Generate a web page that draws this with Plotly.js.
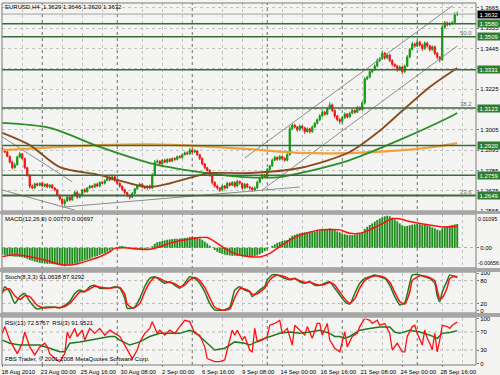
<!DOCTYPE html>
<html><head><meta charset="utf-8">
<script src="https://cdn.plot.ly/plotly-3.0.1.min.js"></script>
<style>html,body{margin:0;padding:0;background:#f4f4f2;}#chart{width:500px;height:375px;}</style>
</head><body><div id="chart"></div>
<script>
// ---------- time axis ----------
const timeLabels = ["18 Aug 2010","23 Aug 00:00","25 Aug 16:00","30 Aug 08:00","2 Sep 00:00","6 Sep 16:00","9 Sep 08:00","14 Sep 00:00","16 Sep 16:00","21 Sep 08:00","24 Sep 00:00","28 Sep 16:00"];
const labelBars = [0,16,32,48,64,80,96,112,128,144,160,176];
const gridBars = [8,24,32,40,56,64,72,88,96,104,112,120,128,144,152,160,176,184];
const weekBars = [16,46,76,106,136,166];

// ---------- EURUSD H4 candles ----------
const firstOpen = 1.2905;
const closes = [
1.2898,1.2885,1.2862,1.2830,1.2800,1.2815,1.2858,1.2875,1.2850,1.2800,
1.2760,1.2700,1.2690,1.2712,1.2705,1.2715,1.2700,1.2710,1.2695,1.2705,
1.2690,1.2680,1.2650,1.2630,1.2605,1.2620,1.2640,1.2625,1.2650,1.2665,
1.2640,1.2655,1.2680,1.2670,1.2690,1.2700,1.2695,1.2710,1.2700,1.2720,
1.2715,1.2730,1.2745,1.2735,1.2750,1.2730,1.2715,1.2700,1.2680,1.2665,
1.2650,1.2640,1.2660,1.2685,1.2700,1.2710,1.2695,1.2690,1.2700,1.2690,
1.2760,1.2830,1.2835,1.2820,1.2840,1.2830,1.2845,1.2835,1.2850,1.2845,
1.2860,1.2855,1.2870,1.2880,1.2875,1.2895,1.2885,1.2890,1.2870,1.2850,
1.2820,1.2800,1.2785,1.2760,1.2720,1.2700,1.2690,1.2680,1.2700,1.2690,
1.2715,1.2705,1.2720,1.2700,1.2725,1.2715,1.2690,1.2710,1.2695,1.2690,
1.2680,1.2690,1.2720,1.2745,1.2760,1.2750,1.2790,1.2810,1.2840,1.2855,
1.2845,1.2860,1.2850,1.2840,1.2870,1.3010,1.3030,1.3020,1.3005,1.3025,
1.3015,1.2995,1.3010,1.2995,1.3020,1.3040,1.3060,1.3080,1.3100,1.3090,
1.3120,1.3140,1.3110,1.3080,1.3060,1.3050,1.3070,1.3090,1.3075,1.3095,
1.3110,1.3100,1.3125,1.3115,1.3150,1.3280,1.3290,1.3320,1.3330,1.3350,
1.3380,1.3390,1.3420,1.3395,1.3410,1.3380,1.3360,1.3350,1.3330,1.3345,
1.3320,1.3350,1.3400,1.3440,1.3470,1.3460,1.3480,1.3465,1.3445,1.3475,
1.3460,1.3440,1.3455,1.3420,1.3400,1.3385,1.3560,1.3585,1.3575,1.3580,
1.3585,1.3629,1.3632];
const upWickPips = [
6,4,5,3,8,10,6,9,4,3, 5,4,8,6,7,5,9,4,6,5, 7,4,5,6,4,12,8,6,5,9, 10,6,5,8,4,7,5,6,9,5,
8,6,7,9,12,6,4,5,3,6, 4,5,8,6,7,9,5,6,4,8, 10,12,9,5,6,8,4,7,5,6, 5,8,6,7,9,12,8,10,5,4,
6,5,4,7,5,6,8,4,9,6, 8,5,7,6,9,5,4,7,6,5, 6,8,9,5,7,6,8,5,9,10, 6,8,5,7,9,14,10,8,6,9,
5,7,8,6,9,8,6,10,12,8, 9,14,7,5,6,8,7,9,6,8, 7,6,9,7,12,10,8,9,6,10, 12,9,15,7,10,6,8,5,7,9,
6,8,10,9,12,8,10,7,6,9, 8,6,7,5,6,4,14,10,6,8, 9,12,14];
const lowWickPips = [
4,6,5,8,10,5,4,6,7,8, 9,12,6,5,7,6,4,8,5,6, 5,8,6,9,12,15,6,8,5,7, 9,6,5,7,6,4,8,5,6,7,
5,6,4,8,5,7,6,9,6,8, 10,12,6,5,7,6,8,5,9,7, 6,5,8,7,6,5,7,6,5,8, 6,5,7,4,6,5,8,6,7,9,
7,10,6,9,12,8,10,12,6,8, 5,7,6,9,5,8,10,6,7,9, 12,8,6,5,7,6,5,8,6,5, 8,6,9,7,6,5,8,7,10,6,
8,12,6,10,7,5,6,8,5,9, 6,5,10,12,9,14,7,6,8,5, 6,8,5,7,6,8,6,5,9,6, 7,8,6,10,7,9,12,8,10,7,
14,8,6,7,5,9,7,10,12,6, 9,11,7,10,12,14,6,8,10,7, 6,5,9];

// ---------- moving averages (read at sample bars) ----------
const maOrangeBars = [0,20,39,59,79,99,119,139,159,175,182];
const maOrange = [1.2895,1.2910,1.2922,1.2926,1.2917,1.2900,1.2880,1.2879,1.2893,1.2917,1.2933];
const maGreenBars = [0,19,39,59,79,97,111,119,139,159,179,182];
const maGreen = [1.3042,1.3015,1.2912,1.2825,1.2776,1.2749,1.2749,1.2770,1.2841,1.2950,1.3074,1.3096];
const maBrownBars = [0,11,23,39,59,79,83,99,119,139,151,159,171,182];
const maBrown = [1.2988,1.2922,1.2803,1.2760,1.2695,1.2760,1.2771,1.2771,1.2798,1.2885,1.3000,1.3096,1.3237,1.3340];

// ---------- drawn trend lines [bar0, price0, bar1, price1] ----------
const trendLines = [
  [0,1.2967,28,1.2723],
  [0,1.2679,29,1.2570],
  [24,1.2586,119,1.2695],
  [97,1.2852,180,1.3676],
  [104,1.2679,182,1.3459]
];
const levels = [1.3580,1.3509,1.3331,1.3123,1.2920,1.2759,1.2649];
const fibTexts = ["50.0","38.2","23.6"];
const fibLevels = [1.3509,1.3123,1.2649];
const bidPrice = 1.3632;
const priceTicks = [1.2565,1.2675,1.2785,1.2895,1.3005,1.3115,1.3225,1.3335,1.3445,1.3555,1.3665];

// ---------- MACD(12,26,9), units of 0.001 ----------
const macdHist = [
-2.2,-2.3,-2.4,-2.6,-2.8,-2.9,-2.9,-3.0,-3.1,-3.3,-3.6,-4.0,
-4.2,-4.5,-4.7,-4.9,-5.0,-5.1,-5.2,-5.2,-5.3,-5.4,-5.5,-5.6,-5.8,
-6.0,-5.8,-5.6,-5.4,-5.1,-5.0,
-4.7,-4.4,-4.1,-3.9,-3.6,-3.2,-2.9,-2.7,-2.3,-2.0,-1.7,-1.3,-0.9,
-0.5,-0.2,0.2,0.5,0.6,
0.4,0.1,-0.3,-0.5,-0.6,-0.5,-0.4,-0.5,-0.4,-0.3,
-0.2,0.5,1.3,1.8,2.0,2.2,
2.4,2.6,2.7,2.8,2.9,2.9,3.0,3.1,3.2,3.3,3.5,3.6,3.5,3.3,3.0,
2.6,2.0,1.4,0.7,0.0,-0.7,-1.3,
-1.7,-2.0,-2.2,-2.4,-2.5,-2.6,-2.6,-2.7,-2.7,-2.8,-2.8,-2.9,-2.8,
-2.8,-2.7,-2.5,-2.1,-1.7,-1.1,-0.6,
0.0,0.6,1.1,1.6,1.9,2.2,2.4,2.5,
3.2,3.9,4.2,4.5,4.7,4.9,5.0,5.1,5.2,5.2,5.3,5.5,5.7,5.9,6.0,6.1,6.3,
6.1,5.7,5.3,5.0,4.6,4.4,4.2,4.1,4.1,4.2,4.4,4.6,
5.0,6.1,6.8,7.4,7.9,8.5,9.0,9.5,9.9,10.2,10.4,10.2,
9.8,9.2,8.6,7.9,7.3,7.0,7.1,7.3,7.5,7.6,7.7,
7.6,7.5,7.4,7.3,7.0,6.6,6.3,5.9,5.6,
6.3,6.7,7.0,7.2,7.4,7.6,7.7];
const macdSigBars = [0,5,11,17,23,27,31,35,39,43,45,49,55,59,63,67,71,75,79,82,85,89,93,97,99,103,107,111,115,119,127,135,139,143,147,151,156,159,163,167,171,175,179,182];
const macdSig = [-2.9,-2.3,-2.9,-4.0,-5.4,-5.6,-5.0,-4.0,-2.9,-1.3,-0.2,0.0,-0.5,-0.5,0.3,1.5,2.3,2.8,3.3,3.3,2.0,-0.2,-1.9,-2.7,-2.9,-3.0,-1.8,0.4,2.5,4.1,5.8,5.8,4.7,4.7,5.8,7.4,9.4,9.4,8.5,7.9,7.4,6.8,6.8,7.0];

// ---------- Stochastic(8,3,3) ----------
const stochBars = [0,1,3,5,7,9,11,14,17,21,23,25,27,29,31,33,35,37,39,43,45,47,49,50,52,53,55,57,59,61,63,65,67,69,71,73,75,77,79,81,83,85,88,91,93,95,97,99,100,102,104,105,106,108,110,113,115,117,119,121,123,125,127,129,131,133,135,137,139,141,143,145,147,149,151,153,155,157,159,161,163,164,167,169,171,173,174,175,176,178,179,181,182];
const stochMain = [46,64,50,20,38,46,25,5,10,10,8,15,25,46,55,50,64,68,60,60,64,60,33,7,8,10,33,64,86,90,82,73,77,68,60,73,90,86,73,50,20,3,1,10,55,64,55,50,38,50,60,64,82,95,95,86,82,86,77,73,77,68,68,73,77,60,42,25,18,46,73,86,90,95,90,86,68,38,16,22,73,95,95,90,86,73,40,24,50,80,95,90,91];
const stochSignal = [50,55,58,40,30,40,38,15,8,10,9,12,20,35,50,52,58,65,63,60,62,62,45,18,8,9,20,50,75,88,86,78,75,72,64,68,82,88,80,62,35,10,2,5,35,58,58,52,44,45,55,60,72,88,95,90,84,85,80,75,76,71,68,70,75,68,50,32,20,32,60,80,88,92,92,88,76,50,25,18,50,80,93,92,88,80,55,32,35,62,85,92,88];

// ---------- RSI(13) and RSI(3) ----------
const rsi13Bars = [0,3,7,11,15,19,23,25,27,31,35,39,43,45,47,51,55,59,63,67,71,75,77,79,83,85,89,93,97,99,103,107,111,115,119,123,127,131,133,135,137,139,143,147,151,155,157,159,163,167,171,174,176,179,182];
const rsi13 = [52,45,41,41,41,34,26,26,45,48,52,56,60,60,52,41,48,60,67,67,67,74,70,60,41,30,34,48,45,41,52,60,67,70,67,70,74,67,60,60,56,60,74,78,81,81,70,67,74,70,63,56,67,69,73];
const rsi3Bars = [0,1,3,5,6,8,9,11,13,15,17,18,19,21,23,25,26,27,29,30,32,33,35,37,39,41,43,45,47,49,51,52,54,55,57,59,60,62,63,65,67,69,71,73,75,77,79,81,82,85,87,89,90,92,93,94,96,97,99,100,101,102,104,106,107,109,111,112,114,116,117,119,121,122,124,126,127,128,130,131,133,135,137,138,140,142,143,145,147,148,150,151,153,155,156,158,160,161,162,164,165,166,168,169,170,171,172,173,174,175,176,178,179,180,182];
const rsi3 = [67,82,52,30,22,45,70,37,19,37,45,37,22,11,4,22,70,56,78,60,74,52,78,67,78,63,74,67,60,41,19,11,30,48,67,78,93,67,74,63,74,67,82,96,93,67,63,37,11,4,4,8,30,74,63,74,52,60,30,26,78,48,52,60,85,89,96,67,78,41,85,74,63,82,56,89,89,63,89,52,34,26,70,37,60,67,82,100,96,89,96,85,89,67,30,45,26,26,60,82,85,67,41,74,56,45,30,67,26,52,85,82,78,85,92];

// ---------- build ----------
const bars = closes.map((c, i) => i);
const opens = closes.map((c, i) => i === 0 ? firstOpen : closes[i - 1]);
const highs = closes.map((c, i) => Math.max(opens[i], c) + upWickPips[i] * 0.0001);
const lows = closes.map((c, i) => Math.min(opens[i], c) - lowWickPips[i] * 0.0001);

const UP = '#139a13', DOWN = '#f01414', GREENLINE = '#1e7a1e', RED = '#ff1010';
const traces = [];
traces.push({type:'candlestick', x:bars, open:opens, high:highs, low:lows, close:closes,
  xaxis:'x', yaxis:'y', whiskerwidth:0, hoverinfo:'skip',
  increasing:{line:{color:UP, width:1}, fillcolor:UP},
  decreasing:{line:{color:DOWN, width:1}, fillcolor:DOWN}});
trendLines.forEach(t => traces.push({type:'scatter', mode:'lines', x:[t[0],t[2]], y:[t[1],t[3]],
  xaxis:'x', yaxis:'y', line:{color:'#8c8c8c', width:1}, hoverinfo:'skip'}));
traces.push({type:'scatter', mode:'lines', x:maOrangeBars, y:maOrange, xaxis:'x', yaxis:'y', line:{color:'#f2a23c', width:2.2, shape:'spline', smoothing:0.8}, hoverinfo:'skip'});
traces.push({type:'scatter', mode:'lines', x:maGreenBars, y:maGreen, xaxis:'x', yaxis:'y', line:{color:'#2a8f2a', width:1.8, shape:'spline', smoothing:0.8}, hoverinfo:'skip'});
traces.push({type:'scatter', mode:'lines', x:maBrownBars, y:maBrown, xaxis:'x', yaxis:'y', line:{color:'#8b4a1c', width:1.8, shape:'spline', smoothing:0.8}, hoverinfo:'skip'});

traces.push({type:'bar', x:bars, y:macdHist.map(v => v / 1000), xaxis:'x', yaxis:'y2', marker:{color:'#1d8c1d', line:{width:0}}, width:0.75, hoverinfo:'skip'});
traces.push({type:'scatter', mode:'lines', x:macdSigBars, y:macdSig.map(v => v / 1000), xaxis:'x', yaxis:'y2', line:{color:RED, width:1.5, shape:'spline', smoothing:0.6}, hoverinfo:'skip'});

traces.push({type:'scatter', mode:'lines', x:stochBars, y:stochMain, xaxis:'x', yaxis:'y3', line:{color:GREENLINE, width:1.5, shape:'spline', smoothing:0.5}, hoverinfo:'skip'});
traces.push({type:'scatter', mode:'lines', x:stochBars, y:stochSignal, xaxis:'x', yaxis:'y3', line:{color:RED, width:1.5, shape:'spline', smoothing:0.5}, hoverinfo:'skip'});

traces.push({type:'scatter', mode:'lines', x:rsi13Bars, y:rsi13, xaxis:'x', yaxis:'y4', line:{color:GREENLINE, width:1.5}, hoverinfo:'skip'});
traces.push({type:'scatter', mode:'lines', x:rsi3Bars, y:rsi3, xaxis:'x', yaxis:'y4', line:{color:RED, width:1.3}, hoverinfo:'skip'});

// panel geometry in paper units
const pricePanel = [0.4254, 1.0];
const macdPanel = [0.2680, 0.4171];
const stochFrame = [0.1436, 0.2569];
const rsiFrame = [0.0, 0.1326];
const shapes = [];
weekBars.forEach(b => shapes.push({type:'line', xref:'x', yref:'paper', x0:b, x1:b, y0:0, y1:1, line:{color:'#6e6e6e', width:1, dash:'dot'}, layer:'below'}));
levels.forEach((v, i) => shapes.push({type:'line', xref:'paper', yref:'y', x0:0, x1:1, y0:v, y1:v, line:{color:'#3b6b3b', width: i === levels.length - 1 ? 2 : 1.5}}));
shapes.push({type:'line', xref:'paper', yref:'y', x0:0, x1:1, y0:bidPrice, y1:bidPrice, line:{color:'#a0a0a0', width:1}});
[20, 80].forEach(v => shapes.push({type:'line', xref:'paper', yref:'y3', x0:0, x1:1, y0:v, y1:v, line:{color:'#b8b8b8', width:1, dash:'dot'}, layer:'below'}));
[30, 70].forEach(v => shapes.push({type:'line', xref:'paper', yref:'y4', x0:0, x1:1, y0:v, y1:v, line:{color:'#b8b8b8', width:1, dash:'dot'}, layer:'below'}));
[pricePanel, macdPanel, stochFrame, rsiFrame].forEach(d => shapes.push({type:'rect', xref:'paper', yref:'paper', x0:0, x1:1, y0:d[0], y1:d[1], line:{color:'#7a7a7a', width:1}, fillcolor:'rgba(0,0,0,0)'}));
[[0.4171,0.4254],[0.2569,0.2680],[0.1326,0.1436]].forEach(d => shapes.push({type:'rect', xref:'paper', yref:'paper', x0:-0.005, x1:1.052, y0:d[0], y1:d[1], line:{width:0}, fillcolor:'#a6a6a6'}));

const FONT = '"Liberation Sans", Arial, sans-serif';
const annotations = [];
const txt = (x, y, text, opts) => Object.assign({xref:'paper', yref:'paper', x:x, y:y, text:text, showarrow:false, xanchor:'left', yanchor:'middle', font:{family:FONT, size:6, color:'#000'}}, opts || {});
annotations.push(txt(0.003, 0.989, 'EURUSD,H4  1.3629 1.3646 1.3620 1.3632'));
annotations.push(txt(0.003, 0.4033, 'MACD(12,26,9) 0.00770 0.00697'));
annotations.push(txt(0.003, 0.2431, 'Stoch(8,3,3) 91.0638 87.9292'));
annotations.push(txt(0.003, 0.1160, 'RSI(13) 72.5767  RSI(3) 91.9521'));
annotations.push(txt(0.003, 0.0170, 'FBS Trader, \u00a9 2001-2008 MetaQuotes Software Corp.'));
levels.forEach(v => annotations.push({xref:'paper', yref:'y', x:1, xanchor:'left', xshift:1, y:v, yanchor:'middle', text:v.toFixed(4), showarrow:false, bgcolor:'#2f7d2f', font:{family:FONT, size:6, color:'#ffffff'}, width:22, height:7, borderpad:0}));
annotations.push({xref:'paper', yref:'y', x:1, xanchor:'left', xshift:1, y:bidPrice, yanchor:'middle', text:bidPrice.toFixed(4), showarrow:false, bgcolor:'#000000', font:{family:FONT, size:6, color:'#ffffff'}, width:22, height:7, borderpad:0});
fibLevels.forEach((v, i) => annotations.push({xref:'paper', yref:'y', x:0.9958, xanchor:'right', y:v, yanchor:'bottom', yshift:-1, text:fibTexts[i], showarrow:false, font:{family:FONT, size:6, color:'#707070'}}));
annotations.push({xref:'paper', yref:'y2', x:1, xanchor:'left', xshift:0, y:0.01095, yanchor:'top', text:'0.01095', showarrow:false, font:{family:FONT, size:5.3, color:'#000'}});
annotations.push({xref:'paper', yref:'y2', x:1, xanchor:'left', xshift:0, y:-0.00656, yanchor:'bottom', text:'-0.00656', showarrow:false, font:{family:FONT, size:5.3, color:'#000'}});

const yBase = {side:'right', anchor:'x', tickfont:{family:FONT, size:6, color:'#000'}, ticks:'outside', ticklen:2, tickcolor:'#7a7a7a', zeroline:false, showline:false, fixedrange:true, tickmode:'array'};
const layout = {
  width:500, height:375,
  margin:{l:2, r:24, t:3, b:10, pad:0},
  paper_bgcolor:'#f4f4f2', plot_bgcolor:'#f4f4f2',
  showlegend:false, hovermode:false,
  font:{family:FONT, size:6, color:'#000'},
  xaxis:{domain:[0,1], anchor:'y4', range:[-0.1,189.5], tickmode:'array', tickvals:labelBars, ticktext:timeLabels,
    tickfont:{family:FONT, size:6, color:'#000'}, ticks:'outside', ticklen:2, tickcolor:'#7a7a7a', ticklabelshift:16,
    showgrid:false, zeroline:false, showline:false, fixedrange:true, rangeslider:{visible:false},
    minor:{tickmode:'array', tickvals:gridBars, showgrid:true, gridcolor:'#c2c2c2', griddash:'dot', gridwidth:1, ticks:''}},
  yaxis:Object.assign({}, yBase, {domain:pricePanel, range:[1.2565,1.3692], tickvals:priceTicks, ticktext:priceTicks.map(v => v.toFixed(4)), showgrid:true, gridcolor:'#c2c2c2', griddash:'dot'}),
  yaxis2:Object.assign({}, yBase, {domain:macdPanel, range:[-0.00656,0.01095], tickvals:[0], ticktext:['0.00'], showgrid:true, gridcolor:'#b0b0b0', griddash:'dot'}),
  yaxis3:Object.assign({}, yBase, {domain:[0.1492,0.2541], range:[0,100], tickvals:[0,20,80,100], ticktext:['0','20','80','100'], showgrid:false}),
  yaxis4:Object.assign({}, yBase, {domain:[0.0041,0.1285], range:[0,100], tickvals:[0,30,70,100], ticktext:['0','30','70','100'], showgrid:false}),
  bargap:0.2,
  shapes:shapes, annotations:annotations
};
Plotly.newPlot('chart', traces, layout, {displayModeBar:false, staticPlot:true});
</script></body></html>
